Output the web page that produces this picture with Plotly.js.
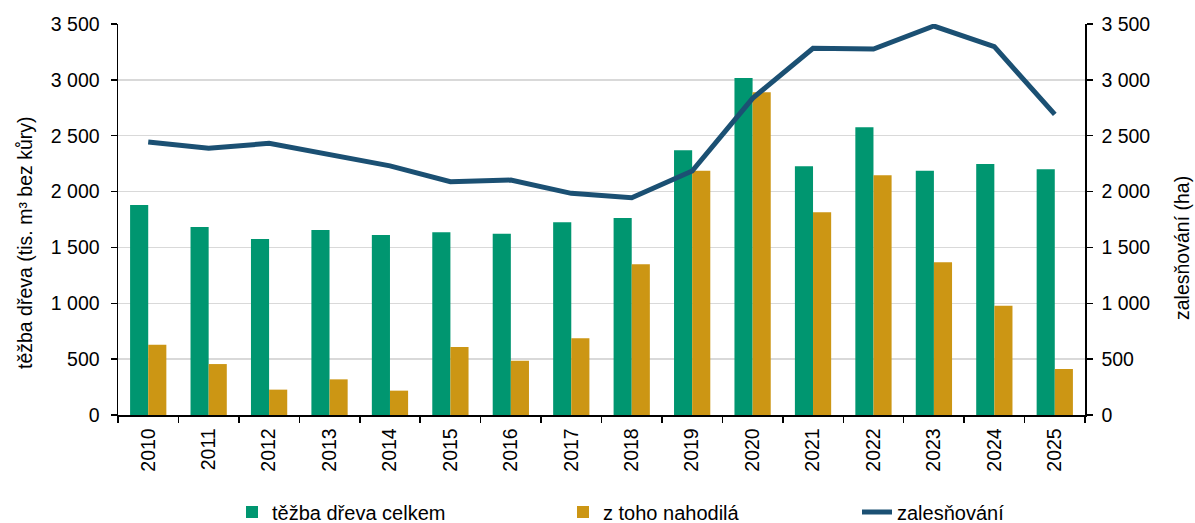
<!DOCTYPE html>
<html>
<head>
<meta charset="utf-8">
<script src="https://cdn.plot.ly/plotly-3.0.1.min.js"></script>
<style>html,body{margin:0;padding:0;background:#fff;}#chart{width:1195px;height:523px;}</style>
</head>
<body>
<div id="chart"></div>
<script>
const years = ['2010','2011','2012','2013','2014','2015','2016','2017','2018','2019','2020','2021','2022','2023','2024','2025'];
const tezbaCelkem = [1880, 1683, 1576, 1656, 1611, 1635, 1623, 1725, 1763, 2369, 3016, 2226, 2575, 2187, 2247, 2199];
const nahodila = [629, 456, 227, 319, 218, 609, 486, 686, 1349, 2187, 2888, 1814, 2145, 1367, 978, 412];
const zalesnovani = [2444, 2387, 2432, 2330, 2230, 2088, 2103, 1984, 1945, 2184, 2835, 3282, 3276, 3482, 3297, 2691];
const seriesNames = ['těžba dřeva celkem', 'z toho nahodilá', 'zalesňování'];
const axisTitles = ['těžba dřeva (tis. m³ bez kůry)', 'zalesňování (ha)'];

const FONT = 'Liberation Sans, Arial, sans-serif';
const tickFs = 19.5;
const titleFs = 19.5;
const legFs = 20;

const traces = [
  {type:'bar', x: years, y: tezbaCelkem, name: seriesNames[0], marker:{color:'#009670'}, legend:'legend', yaxis:'y'},
  {type:'bar', x: years, y: nahodila, name: seriesNames[1], marker:{color:'#CC9614'}, legend:'legend2', yaxis:'y'},
  {type:'scatter', mode:'lines', x: years, y: zalesnovani, name: seriesNames[2], line:{color:'#1B5073', width:5}, legend:'legend3', yaxis:'y2'}
];

const legendBase = {orientation:'h', xref:'container', yref:'container', yanchor:'middle', xanchor:'left', y: 1 - 512/523, font:{family:FONT, size:legFs, color:'#000'}, bgcolor:'rgba(0,0,0,0)'};

const axisCommon = {
  range:[0,3500], dtick:500, tickformat:',d', ticks:'outside', ticklen:6, tickcolor:'#000', tickwidth:1.5,
  showline:true, linecolor:'#000', linewidth:1.5, zeroline:false,
  tickfont:{family:FONT, size:tickFs, color:'#000'}, automargin:false, ticklabelstandoff:5
};

const layout = {
  width:1195, height:523,
  margin:{l:118, r:110, t:24, b:108},
  paper_bgcolor:'#fff', plot_bgcolor:'#fff',
  separators:', ',
  font:{family:FONT, size:tickFs, color:'#000'},
  barmode:'group', bargap:0.4, bargroupgap:0,
  xaxis:{
    type:'category', tickangle:-90, ticks:'outside', ticklen:6, tickcolor:'#000', tickwidth:1.5,
    tickson:'boundaries', showline:true, linecolor:'#000', linewidth:1.5, showgrid:false,
    tickfont:{family:FONT, size:tickFs, color:'#000'}, automargin:false, ticklabelstandoff:4
  },
  yaxis: Object.assign({}, axisCommon, {gridcolor:'#d9d9d9', gridwidth:1.5, ticklabelstandoff:7}),
  yaxis2: Object.assign({}, axisCommon, {overlaying:'y', side:'right', showgrid:false}),
  annotations:[
    {text: axisTitles[0], xref:'paper', yref:'paper', x:(25-118)/967, y:(415-243)/391, textangle:-90, showarrow:false, xanchor:'center', yanchor:'middle', font:{family:FONT, size:titleFs, color:'#000'}},
    {text: axisTitles[1], xref:'paper', yref:'paper', x:(1182-118)/967, y:(415-248)/391, textangle:-90, showarrow:false, xanchor:'center', yanchor:'middle', font:{family:FONT, size:titleFs, color:'#000'}}
  ],
  legend: Object.assign({}, legendBase, {x: 232/1195}),
  legend2: Object.assign({}, legendBase, {x: 563/1195}),
  legend3: Object.assign({}, legendBase, {x: 857/1195}),
  showlegend:true
};

Plotly.newPlot('chart', traces, layout, {displayModeBar:false, staticPlot:true});
</script>
</body>
</html>
